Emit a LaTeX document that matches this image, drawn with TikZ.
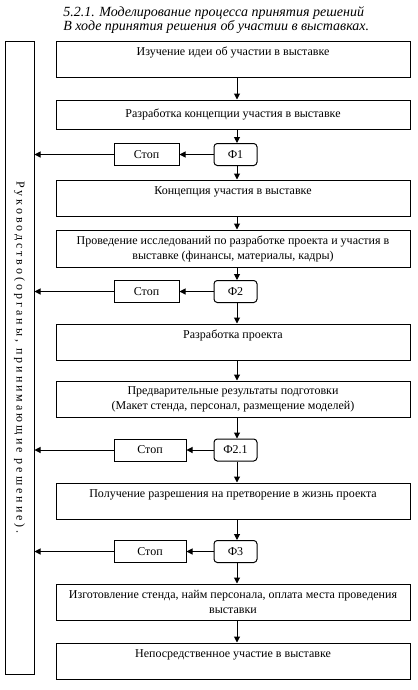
\documentclass[tikz,border=0pt]{standalone}
\usepackage{fontspec}
\setmainfont{Liberation Serif}
\usetikzlibrary{arrows.meta}
\definecolor{flowInk}{HTML}{000000}
\tikzset{
  flow box/.style={draw=flowInk, line width=0.75pt, inner sep=0pt, align=center,
    minimum width=265.5pt, font=\fontsize{9}{11.25}\selectfont},
  flow top/.style={flow box, minimum height=27pt, text height=7pt, text depth=12pt},
  flow mid/.style={flow box, minimum height=#1},
  flow filter/.style={draw=flowInk, line width=0.75pt, rounded corners=2.5pt, inner sep=0pt,
    minimum width=32.25pt, minimum height=16.5pt, font=\fontsize{9}{11}\selectfont},
  flow stop/.style={draw=flowInk, line width=0.75pt, inner sep=0pt,
    minimum width=#1, minimum height=16.5pt, font=\fontsize{9}{11}\selectfont},
  flow arrow/.style={draw=flowInk, line width=0.75pt, -{Triangle[width=4.5pt,length=4.5pt]}},
  flow title/.style={anchor=base west, inner sep=0pt, font=\fontsize{10.5}{10.5}\selectfont\itshape},
}

\begin{document}
\begin{tikzpicture}[x=0.75pt, y=-0.75pt]
  \useasboundingbox (0,0) rectangle (418,690);
  % Heading
  \node[flow title] (title1) at (63,16) {5.2.1. Моделирование процесса принятия решений};
  \node[flow title] (title2) at (63,30) {В ходе принятия решения об участии в выставках.};
  % Management column
  \node[draw=flowInk, line width=0.75pt, rotate=-90, inner sep=0pt,
    minimum width=474.75pt, minimum height=21.75pt,
    font=\fontsize{9}{11}\selectfont\addfontfeature{LetterSpace=25}]
    (lead) at (19.5,357.5) {Руководство(органы, принимающие решение).};
  % Main chain
  \coordinate (spine) at (237,0);
  \node[flow top] (b1) at (233,59) {Изучение идеи об участии в выставке};
  \node[flow mid=21.75pt] (b2) at (233,114.5) {Разработка концепции участия в выставке};
  \node[flow filter] (f1) at (235.5,154.5) {Ф1};
  \node[flow top] (b3) at (233,198) {Концепция участия в выставке};
  \node[flow mid=27.75pt] (b4) at (233,248.5) {Проведение исследований по разработке проекта и участия в\\выставке (финансы, материалы, кадры)};
  \node[flow filter] (f2) at (235.5,291.5) {Ф2};
  \node[flow top] (b5) at (233,342) {Разработка проекта};
  \node[flow mid=27pt] (b6) at (233,399) {Предварительные результаты подготовки\\(Макет стенда, персонал, размещение моделей)};
  \node[flow filter] (f21) at (235.5,450) {Ф2.1};
  \node[flow top] (b7) at (233,501) {Получение разрешения на претворение в жизнь проекта};
  \node[flow filter] (f3) at (235.5,551.5) {Ф3};
  \node[flow mid=27pt] (b8) at (233,602) {Изготовление стенда, найм персонала, оплата места проведения\\выставки};
  \node[flow top] (b9) at (233,661) {Непосредственное участие в выставке};
  % Stop boxes
  \node[flow stop=48.75pt] (s1) at (146.5,154.5) {Стоп};
  \node[flow stop=48.75pt] (s2) at (146.5,291.5) {Стоп};
  \node[flow stop=54pt] (s21) at (150,450) {Стоп};
  \node[flow stop=54pt] (s3) at (150,551.5) {Стоп};
  % Connectors down the chain
  \foreach \a/\b in {b1/b2, b2/f1, f1/b3, b3/b4, b4/f2, f2/b5, b5/b6, b6/f21, f21/b7, b7/f3, f3/b8, b8/b9}
    \draw[flow arrow] (\a.south -| spine) -- (\b.north -| spine);
  % Rejections to management
  \foreach \f/\s in {f1/s1, f2/s2, f21/s21, f3/s3} {
    \draw[flow arrow] (\f.west) -- (\s.east);
    \draw[flow arrow] (\s.west) -- (\s.west -| lead.north);
  }
\end{tikzpicture}
\end{document}
